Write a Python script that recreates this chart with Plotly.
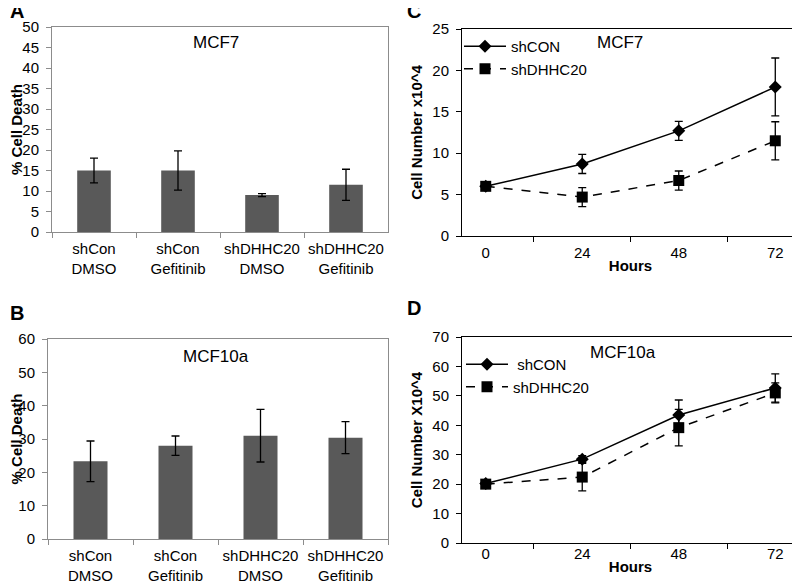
from plotly.subplots import make_subplots
import plotly.graph_objects as go

# panels A / B : % cell death bars
groups = ["shCon<br>DMSO", "shCon<br>Gefitinib", "shDHHC20<br>DMSO", "shDHHC20<br>Gefitinib"]
mcf7_death = [15, 15, 9, 11.5]
mcf7_death_err = [3, 4.8, 0.35, 3.8]
mcf10a_death = [23.3, 28, 31, 30.4]
mcf10a_death_err = [6.1, 2.9, 7.9, 4.8]

# panels C / D : cell number over time
hours = ["0", "24", "48", "72"]
mcf7_shcon = [6, 8.7, 12.7, 18]
mcf7_shcon_err = [0.15, 1.15, 1.15, 3.5]
mcf7_shdhhc20 = [6, 4.7, 6.7, 11.5]
mcf7_shdhhc20_err = [0.15, 1.15, 1.15, 2.3]
mcf10a_shcon = [20.2, 28.5, 43.5, 52.7]
mcf10a_shcon_err = [0.8, 1.2, 5.1, 4.8]
mcf10a_shdhhc20 = [20, 22.4, 39.2, 51]
mcf10a_shdhhc20_err = [0.8, 4.7, 6.2, 3.4]

# the page body keeps its 8px margin, so lay the figure out in screen pixels minus 8
OFF = 8
W, H = 800 - OFF, 581 - OFF
FONT = "Liberation Sans, Arial, sans-serif"
BAR = "#595959"
GRAY = "#8c8c8c"


def sx(x):
    return (x - OFF) / W


def sy(y):
    return 1 - (y - OFF) / H


def px(x0, x1):
    return [sx(x0), sx(x1)]


def py(top, bottom):
    return [sy(bottom), sy(top)]


fig = make_subplots(rows=2, cols=2)

fig.add_trace(go.Bar(x=groups, y=mcf7_death, marker_color=BAR, marker_line_width=0, width=0.4,
                     error_y=dict(type="data", array=mcf7_death_err, color="black", thickness=1.3, width=4),
                     showlegend=False), row=1, col=1)
fig.add_trace(go.Bar(x=groups, y=mcf10a_death, marker_color=BAR, marker_line_width=0, width=0.4,
                     error_y=dict(type="data", array=mcf10a_death_err, color="black", thickness=1.3, width=4),
                     showlegend=False), row=2, col=1)


def growth(y, err, name, solid, legend):
    return go.Scatter(
        x=hours, y=y, name=name, mode="lines+markers", legend=legend,
        line=dict(color="black", width=1.5, dash="solid" if solid else "dash"),
        marker=dict(symbol="diamond" if solid else "square", size=10 if solid else 11, color="black"),
        error_y=dict(type="data", array=err, color="black", thickness=1.3, width=4),
    )


fig.add_trace(growth(mcf7_shcon, mcf7_shcon_err, "shCON", True, "legend"), row=1, col=2)
fig.add_trace(growth(mcf7_shdhhc20, mcf7_shdhhc20_err, "shDHHC20", False, "legend"), row=1, col=2)
fig.add_trace(growth(mcf10a_shcon, mcf10a_shcon_err, "\u00a0shCON", True, "legend2"), row=2, col=2)
fig.add_trace(growth(mcf10a_shdhhc20, mcf10a_shdhhc20_err, "shDHHC20", False, "legend2"), row=2, col=2)

# domains in screen pixels
fig.update_layout(
    xaxis=dict(domain=px(52, 388)), yaxis=dict(domain=py(27, 232)),
    xaxis2=dict(domain=px(462, 799)), yaxis2=dict(domain=py(29, 236)),
    xaxis3=dict(domain=px(48, 388)), yaxis3=dict(domain=py(339, 539)),
    xaxis4=dict(domain=px(462, 799)), yaxis4=dict(domain=py(337, 543)),
)

tickfont = dict(family=FONT, size=15, color="black")
titlefont = dict(family=FONT, size=15, color="black", weight="bold")

for r, c, yr, dt, color, lab in [(1, 1, 50, 5, GRAY, 3), (2, 1, 60, 10, GRAY, 3),
                                 (1, 2, 25, 5, "black", 3), (2, 2, 70, 10, "black", -3)]:
    fig.update_xaxes(type="category", tickson="boundaries", ticks="outside", ticklen=5, tickcolor=color,
                     showline=True, linecolor=color, linewidth=1, mirror=True, showgrid=False, tickangle=0,
                     ticklabelstandoff=lab, tickfont=tickfont, automargin=False, row=r, col=c)
    fig.update_yaxes(range=[0, yr], dtick=dt, ticks="outside", ticklen=5, tickcolor=color,
                     showline=True, linecolor=color, linewidth=1, mirror=True, showgrid=False, zeroline=False,
                     ticklabelstandoff=4, tickfont=tickfont, automargin=False, row=r, col=c)

fig.update_yaxes(title=dict(text="% Cell Death", font=titlefont, standoff=6), row=1, col=1)
fig.update_yaxes(title=dict(text="% Cell Death", font=titlefont, standoff=6), row=2, col=1)
fig.update_yaxes(title=dict(text="Cell Number x10^4", font=titlefont, standoff=6), row=1, col=2)
fig.update_yaxes(title=dict(text="Cell Number X10^4", font=titlefont, standoff=6), row=2, col=2)
fig.update_xaxes(title=dict(text="Hours", font=titlefont, standoff=0), row=1, col=2)
fig.update_xaxes(title=dict(text="Hours", font=titlefont, standoff=0), row=2, col=2)

annotations = []
for text, x, y in [("A", 17, 11), ("B", 17, 313), ("C", 414, 11), ("D", 414, 308)]:
    annotations.append(dict(text=text, x=sx(x), y=sy(y), xref="paper", yref="paper", showarrow=False,
                            xanchor="center", yanchor="middle",
                            font=dict(family=FONT, size=20, color="black", weight="bold")))
for text, x, y in [("MCF7", 216, 43), ("MCF10a", 216, 356), ("MCF7", 620, 43), ("MCF10a", 623, 352)]:
    annotations.append(dict(text=text, x=sx(x), y=sy(y), xref="paper", yref="paper", showarrow=False,
                            xanchor="center", yanchor="middle",
                            font=dict(family=FONT, size=17, color="black")))

legend_style = dict(font=dict(family=FONT, size=15, color="black"), bgcolor="rgba(0,0,0,0)",
                    xanchor="left", yanchor="top", itemwidth=42, tracegroupgap=0)
fig.update_layout(
    width=W, height=H, margin=dict(l=0, r=0, t=0, b=0, autoexpand=False),
    plot_bgcolor="white", paper_bgcolor="white",
    font=dict(family=FONT, color="black"),
    annotations=annotations,
    legend=dict(x=sx(459), y=sy(30), **legend_style),
    legend2=dict(x=sx(461), y=sy(348), **legend_style),
    bargap=0.6,
)

fig.write_html("out.html")
